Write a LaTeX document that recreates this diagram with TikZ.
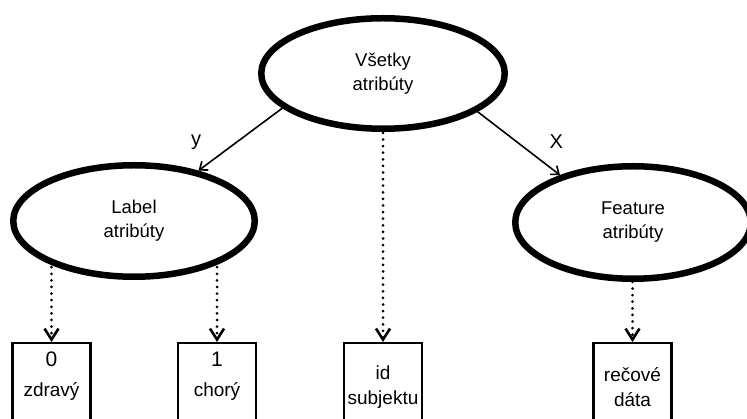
\documentclass[tikz,border=0pt]{standalone}
\usepackage{fontspec}
\setmainfont{Liberation Sans}
\usetikzlibrary{arrows.meta,shapes.geometric,backgrounds}
\begin{document}
\begin{tikzpicture}[x=1pt,y=-1pt,
  bubble/.style={ellipse,draw,line width=6.5pt,fill=white,inner sep=0pt,
    align=center,font=\fontsize{18.5}{24}\selectfont},
  leaf/.style={rectangle,draw,line width=2.2pt,fill=white,minimum width=78pt,
    minimum height=88pt,anchor=north,align=center,inner sep=0pt},
  digitleaf/.style={leaf,font=\fontsize{19}{30}\selectfont,text height=40pt,text depth=22pt},
  wordleaf/.style={leaf,font=\fontsize{19}{25}\selectfont},
  dotlink/.style={line width=3pt,line cap=round,dash pattern=on 0pt off 6.6pt,
    -{Straight Barb[length=11pt,width=14pt,line width=2.6pt]}},
  treelink/.style={line width=1.6pt,-{Straight Barb[length=7pt,width=11pt,line width=1.6pt]}},
  edgetag/.style={font=\fontsize{20}{24}\selectfont}
]
\useasboundingbox (0,0) rectangle (747,419);

% attribute groups
\node[bubble,minimum width=243.5pt,minimum height=110.5pt] (all)  at (383,73.5)  {Všetky\\atribúty};
\node[bubble,minimum width=241.5pt,minimum height=111.5pt] (lab)  at (134,221)   {Label\\atribúty};
\node[bubble,minimum width=235.5pt,minimum height=112.5pt] (feat) at (633,222.5) {Feature\\atribúty};

% leaf attributes
\node[digitleaf] (zero) at (51.5,342)  {{\fontsize{21}{30}\selectfont 0}\\zdravý};
\node[digitleaf] (one)  at (217,342)   {{\fontsize{21}{30}\selectfont 1}\\chorý};
\node[wordleaf]  (sid)  at (383,342)   {id\\subjektu};
\node[wordleaf]  (sig)  at (632.5,342) {rečové\\dáta};

% split into label and feature attributes
\draw[treelink] (all.199) -- node[edgetag,pos=0.55,xshift=-40pt] {y} (lab.38);
\draw[treelink] (all.-22) -- node[edgetag,pos=0.47,xshift=40pt] {X} (feat.147);

% dotted links start under the filled ellipses
\begin{pgfonlayer}{background}
\draw[dotlink] (zero.north |- lab.center) -- (zero.north);
\draw[dotlink] (one.north |- lab.center)  -- (one.north);
\draw[dotlink] (sid.north |- all.center)  -- (sid.north);
\draw[dotlink] (sig.north |- feat.center) -- (sig.north);
\end{pgfonlayer}
\end{tikzpicture}
\end{document}
